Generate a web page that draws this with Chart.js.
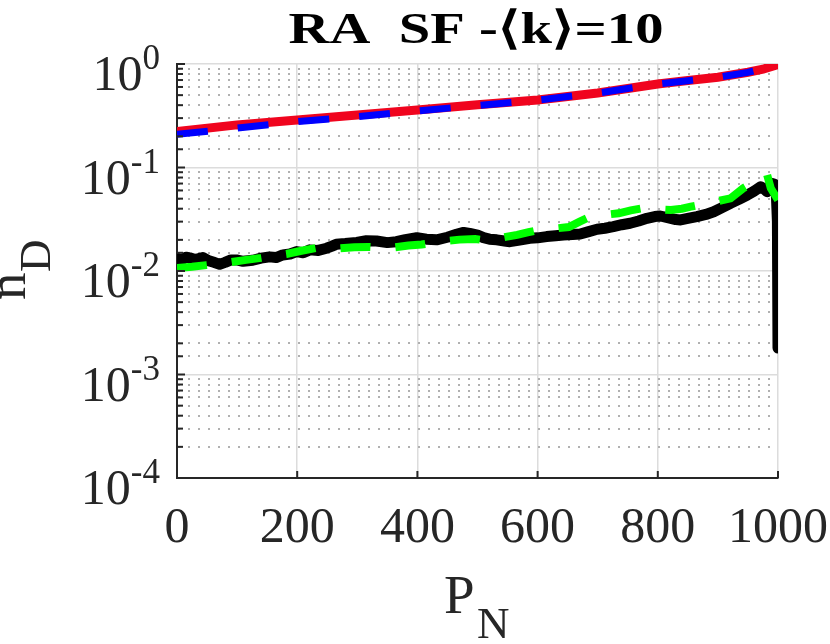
<!DOCTYPE html>
<html>
<head>
<meta charset="utf-8">
<script src="https://cdn.jsdelivr.net/npm/chart.js@4.4.1/dist/chart.umd.min.js"></script>
<style>
  html, body { margin: 0; padding: 0; background: #ffffff; }
  #wrap { width: 830px; height: 644px; }
</style>
</head>
<body>
<div id="wrap"><canvas id="canvas-nd" width="830" height="644"></canvas></div>
<script>
// values
const xTicks = [0, 200, 400, 600, 800, 1000];
const yDecades = [0, -1, -2, -3, -4];

const redP = [0, 100, 200, 300, 400, 500, 600, 700, 800, 850, 900, 950, 975, 1000];
const redN = [0.222, 0.258, 0.288, 0.321, 0.360, 0.403, 0.449, 0.525, 0.641, 0.692, 0.746, 0.832, 0.891, 0.989];

const blueP = [0, 100, 200, 300, 400, 500, 600, 700, 800, 850, 900, 950, 990];
const blueN = [0.209, 0.240, 0.277, 0.310, 0.352, 0.398, 0.447, 0.524, 0.640, 0.690, 0.745, 0.830, 0.950];

const blackP = [0, 8, 15, 21, 30, 43, 52, 60, 71, 80, 90, 99, 110, 126, 140, 154, 165, 176, 188, 199,
  210, 221, 235, 249, 258, 265, 280, 299, 315, 332, 350, 365, 380, 399, 415, 432, 450, 465, 477, 487,
  500, 510, 520, 532, 545, 554, 570, 587, 600, 615, 630, 643, 658, 671, 685, 699, 712, 726, 740, 754,
  768, 782, 795, 804, 818, 830, 838, 850, 865, 880, 893, 907, 921, 935, 949, 960, 971, 977, 982, 986,
  990, 994, 997, 999, 1000];
const blackN = [0.0133, 0.0128, 0.0136, 0.0134, 0.0129, 0.0135, 0.0126, 0.0122, 0.0116, 0.0121, 0.0128, 0.0128, 0.0124, 0.0127, 0.0133, 0.0137, 0.0135, 0.0143, 0.0146, 0.0154,
  0.0150, 0.0160, 0.0158, 0.0166, 0.0174, 0.0181, 0.0184, 0.0189, 0.0196, 0.0195, 0.0188, 0.0192, 0.0201, 0.0210, 0.0203, 0.0200, 0.0212, 0.0226, 0.0236, 0.0231,
  0.0222, 0.0210, 0.0203, 0.0200, 0.0195, 0.0192, 0.0199, 0.0207, 0.0209, 0.0215, 0.0219, 0.0223, 0.0225, 0.0228, 0.0240, 0.0253, 0.0259, 0.0268, 0.0280, 0.0289,
  0.0304, 0.0323, 0.0336, 0.0340, 0.0326, 0.0314, 0.0311, 0.0322, 0.0335, 0.0352, 0.0374, 0.0410, 0.0451, 0.0493, 0.0542, 0.0590, 0.0652, 0.0620, 0.0583, 0.0650,
  0.0703, 0.0690, 0.0600, 0.0300, 0.0018];

const greenP = [0, 25, 49, 70, 90, 115, 140, 160, 182, 205, 232, 250, 271, 295, 318, 340, 360, 385, 407, 430,
  449, 470, 496, 518, 540, 566, 585, 602, 625, 652, 670, 688, 710, 735, 755, 775, 800, 822, 840, 855,
  890, 921, 942, 962, 982, 988, 1000];
const greenN = [0.0107, 0.0110, 0.0114, 0.0118, 0.0122, 0.0128, 0.0134, 0.0140, 0.0146, 0.0156, 0.0167, 0.0166, 0.0166, 0.0170, 0.0171, 0.0168, 0.0169, 0.0176, 0.0180, 0.0188,
  0.0195, 0.0201, 0.0204, 0.0196, 0.0210, 0.0223, 0.0237, 0.0249, 0.0256, 0.0266, 0.0300, 0.0335, 0.0348, 0.0361, 0.0385, 0.0404, 0.0395, 0.0388, 0.0400, 0.0418,
  0.0460, 0.0504, 0.0630, 0.0740, 0.0847, 0.0630, 0.0485];

const FONT = "'Liberation Serif', 'Times New Roman', serif";
const INK = '#262626';

function pairs(xs, ys) {
  return xs.map((v, i) => ({ x: v, y: ys[i] }));
}

function isDecade(v) {
  const l = Math.log10(v);
  return Math.abs(l - Math.round(l)) < 1e-6;
}

// axis texts, superscript tick labels and inward ticks
const decorations = {
  id: 'decorations',
  afterDraw(chart) {
    const { ctx, chartArea: area, scales: { x, y } } = chart;
    ctx.save();
    ctx.strokeStyle = INK;
    ctx.fillStyle = INK;
    ctx.lineWidth = 2;

    // inward ticks
    y.ticks.forEach((t) => {
      const py = y.getPixelForValue(t.value);
      const len = isDecade(t.value) ? 8 : 6;
      ctx.beginPath();
      ctx.moveTo(area.left, py);
      ctx.lineTo(area.left + len, py);
      ctx.stroke();
    });
    xTicks.forEach((v) => {
      const px = x.getPixelForValue(v);
      ctx.beginPath();
      ctx.moveTo(px, area.bottom);
      ctx.lineTo(px, area.bottom - 7);
      ctx.stroke();
    });

    // y tick labels 10^e
    ctx.textBaseline = 'alphabetic';
    ctx.textAlign = 'left';
    yDecades.forEach((e) => {
      const py = y.getPixelForValue(Math.pow(10, e));
      const exp = String(e);
      ctx.font = '50px ' + FONT;
      const wBase = ctx.measureText('10').width;
      ctx.font = '35px ' + FONT;
      const wExp = ctx.measureText(exp).width;
      const right = 160;
      ctx.font = '50px ' + FONT;
      ctx.fillText('10', right - wExp - wBase, py + 26);
      ctx.font = '35px ' + FONT;
      ctx.fillText(exp, right - wExp, py + 5);
    });

    // title, stretched to the width it has in the picture
    const title = 'RA  SF -\u27E8k\u27E9=10';
    ctx.font = 'bold 45px ' + FONT;
    ctx.fillStyle = '#000000';
    const tw = ctx.measureText(title).width;
    const sx = 375 / tw;
    ctx.save();
    ctx.translate(476, 43);
    ctx.scale(sx, 1);
    ctx.textAlign = 'center';
    ctx.fillText(title, 0, 0);
    ctx.restore();

    // x label P_N
    ctx.fillStyle = INK;
    ctx.textAlign = 'left';
    ctx.font = '55px ' + FONT;
    ctx.fillText('P', 444, 613);
    ctx.font = '45px ' + FONT;
    ctx.fillText('N', 477, 638);

    // y label n_D
    ctx.save();
    ctx.translate(25, 300);
    ctx.rotate(-Math.PI / 2);
    ctx.font = '55px ' + FONT;
    ctx.fillText('n', 0, 0);
    ctx.font = '45px ' + FONT;
    ctx.fillText('D', 28, 25);
    ctx.restore();

    ctx.restore();
  },
};

const ctx = document.getElementById('canvas-nd');

// eslint-disable-next-line
const chart = new Chart(ctx, {
  type: 'line',
  data: {
    datasets: [
      {
        label: 'red',
        data: pairs(redP, redN),
        borderColor: '#f0041e',
        borderWidth: 9,
        order: 4,
      },
      {
        label: 'blue',
        data: pairs(blueP, blueN),
        borderColor: '#0000ff',
        borderWidth: 7,
        borderDash: [31, 30],
        order: 3,
      },
      {
        label: 'black',
        data: pairs(blackP, blackN),
        borderColor: '#000000',
        borderWidth: 11,
        borderJoinStyle: 'round',
        borderCapStyle: 'round',
        order: 2,
      },
      {
        label: 'green',
        data: pairs(greenP, greenN),
        borderColor: '#00ff00',
        borderWidth: 8,
        borderDash: [30, 25],
        order: 1,
      },
    ],
  },
  options: {
    responsive: false,
    animation: false,
    layout: { padding: { left: 0, right: 52, top: 64, bottom: 0 } },
    elements: { point: { radius: 0 }, line: { tension: 0, fill: false } },
    plugins: {
      legend: { display: false },
      tooltip: { enabled: false },
      title: { display: false },
    },
    scales: {
      x: {
        type: 'linear',
        min: 0,
        max: 1000,
        afterFit: (s) => {
          s.height = 166;
          s.paddingLeft = 0;
          s.paddingRight = 0;
        },
        afterBuildTicks: (s) => { s.ticks = xTicks.map((v) => ({ value: v })); },
        ticks: {
          color: INK,
          font: { family: FONT, size: 50 },
          padding: 21,
          maxRotation: 0,
          autoSkip: false,
          callback: (v) => String(v),
        },
        grid: { color: '#dcdcdc', lineWidth: 1.5, drawTicks: false },
        border: { color: INK, width: 2 },
      },
      y: {
        type: 'logarithmic',
        min: 1e-4,
        max: 1,
        afterFit: (s) => {
          s.width = 177;
          s.paddingTop = 0;
          s.paddingBottom = 0;
        },
        ticks: { display: false, autoSkip: false },
        grid: {
          drawTicks: false,
          color: (c) => (c.tick && !isDecade(c.tick.value) ? '#b0b0b0' : '#dcdcdc'),
          lineWidth: (c) => (c.tick && !isDecade(c.tick.value) ? 2 : 1.5),
        },
        border: {
          color: INK,
          width: 2,
          dash: (c) => (c.tick && !isDecade(c.tick.value) ? [2, 8] : []),
        },
      },
    },
  },
  plugins: [decorations],
});
</script>
</body>
</html>
